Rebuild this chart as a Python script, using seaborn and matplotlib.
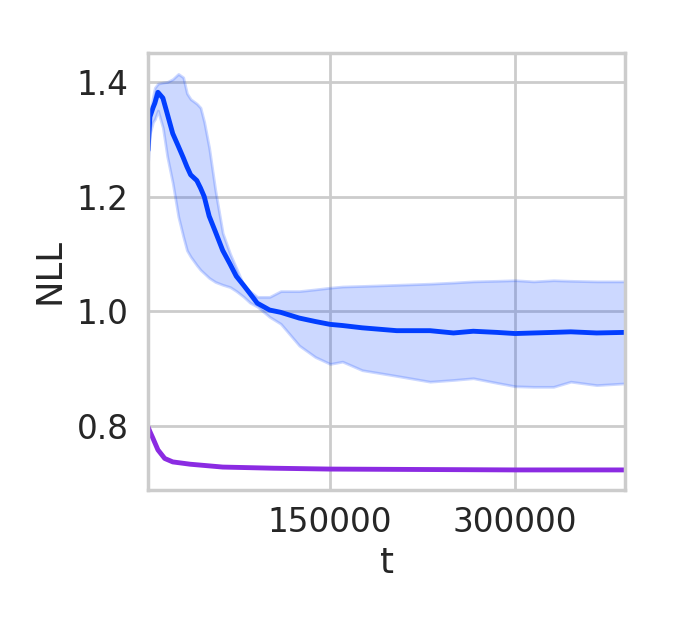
import numpy as np
import pandas as pd
import seaborn as sns
import matplotlib
matplotlib.use("Agg")
import matplotlib.pyplot as plt

# Data

t = [2500, 4000, 6500, 8000, 10500, 14500, 18000, 22500, 27000, 31000,
     34000, 37000, 42000, 45000, 48000, 52000, 57000, 63000, 69000, 74000,
     80000, 85000, 91000, 101000, 110000, 125000, 138000, 150000, 160000, 176000,
     204000, 231000, 250000, 266000, 285000, 300000, 315000, 331000, 345000, 366000,
     389000]

nll_mean = [1.281, 1.339, 1.355, 1.363, 1.382, 1.372, 1.345, 1.310, 1.288, 1.268,
            1.252, 1.238, 1.228, 1.215, 1.200, 1.166, 1.139, 1.106, 1.082, 1.061,
            1.045, 1.031, 1.014, 1.002, 0.998, 0.988, 0.982, 0.977, 0.975, 0.971,
            0.966, 0.966, 0.962, 0.965, 0.963, 0.961, 0.962, 0.963, 0.964, 0.962,
            0.963]

nll_upper = [1.300, 1.345, 1.375, 1.390, 1.397, 1.399, 1.400, 1.405, 1.414, 1.408,
             1.380, 1.370, 1.362, 1.355, 1.330, 1.285, 1.211, 1.136, 1.100, 1.075,
             1.045, 1.035, 1.025, 1.025, 1.035, 1.035, 1.038, 1.041, 1.043, 1.044,
             1.046, 1.048, 1.050, 1.052, 1.053, 1.054, 1.052, 1.054, 1.053, 1.052,
             1.052]

nll_lower = [1.260, 1.310, 1.330, 1.335, 1.350, 1.320, 1.270, 1.223, 1.165, 1.130,
             1.106, 1.095, 1.080, 1.072, 1.066, 1.058, 1.051, 1.046, 1.042, 1.035,
             1.025, 1.015, 1.008, 0.990, 0.978, 0.940, 0.920, 0.908, 0.912, 0.897,
             0.887, 0.877, 0.880, 0.883, 0.875, 0.869, 0.868, 0.868, 0.877, 0.871,
             0.874]

t_base = [2500, 4000, 6500, 10500, 16000, 22500, 36500, 63000, 104000, 150000,
          250000, 300000, 389000]
nll_base = [0.798, 0.790, 0.778, 0.758, 0.743, 0.737, 0.733, 0.728, 0.726, 0.7245,
            0.7235, 0.723, 0.723]

yticks = [0.8, 1.0, 1.2, 1.4]
xticks = [150000, 300000]

# Style

sns.set_theme(context="poster", style="whitegrid")
plt.rcParams.update({
    "xtick.labelsize": 23.5,
    "ytick.labelsize": 23.5,
    "axes.labelsize": 25.5,
    "xtick.major.size": 0,
    "ytick.major.size": 0,
    "xtick.major.pad": 11.5,
    "ytick.major.pad": 14,
    "lines.linewidth": 3.5,
})
pal = sns.color_palette("bright")
blue, purple = pal[0], pal[4]

fig = plt.figure(figsize=(6.73, 6.23), dpi=100)
ax = fig.add_axes([0.22, 0.2135, 0.7087, 0.7015])

df_main = pd.DataFrame({"t": t, "NLL": nll_mean})
df_base = pd.DataFrame({"t": t_base, "NLL": nll_base})

ax.fill_between(t, nll_lower, nll_upper, color=blue, alpha=0.2)
sns.lineplot(data=df_main, x="t", y="NLL", color=blue, ax=ax)
sns.lineplot(data=df_base, x="t", y="NLL", color=purple, ax=ax)

ax.set_xlim(t[0], t[-1])
ax.set_ylim(0.688, 1.4506)
ax.set_xticks(xticks)
ax.set_yticks(yticks)
ax.set_yticklabels([f"{v:.1f}" for v in yticks])
ax.set_xlabel("t", labelpad=5)
ax.set_ylabel("NLL", labelpad=7)

fig.savefig("out.png", dpi=100)
